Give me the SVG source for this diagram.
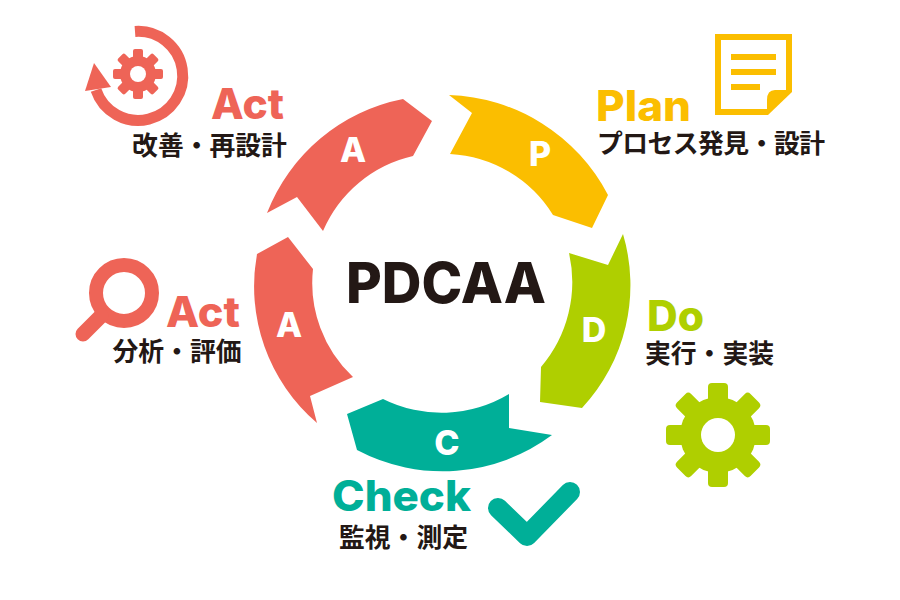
<svg xmlns="http://www.w3.org/2000/svg" width="900" height="600" viewBox="0 0 900 600">
<style>
.red{fill:#EE6457}.yel{fill:#FBBE00}.grn{fill:#AFCF00}.teal{fill:#00AF98}
.l{font-family:"Inter","Liberation Sans",sans-serif;font-weight:800;text-anchor:middle}
.h{font-size:42px}
.s{font-size:34px;fill:#fff}
.j{font-family:"Noto Sans CJK JP",sans-serif;font-weight:700;font-size:25.8px;fill:#231815;text-anchor:middle}
</style>
<rect width="900" height="600" fill="#fff"/>
<g id="connectors">
<path id="seg-act-top" class="red" d="M403 99L432 121L413 156A129 129 0 0 0 323 231L297 197L267 213A184 184 0 0 1 403 99Z"/>
<path id="seg-plan" class="yel" d="M449 95L472 113L450 154A129 129 0 0 1 553 215L592 228L608 195A186 186 0 0 0 449 95Z"/>
<path id="seg-do" class="grn" d="M623 234L608 265L569 253A131 131 0 0 1 541 367L540 402L582 408A180 180 0 0 0 623 234Z"/>
<path id="seg-check" class="teal" d="M347 414L383 399A131 131 0 0 0 509 394L509 428L552 435A183 183 0 0 1 357 450Z"/>
<path id="seg-act-low" class="red" d="M288 237L313 269A129 129 0 0 0 353 377L310 396L317 423A180 180 0 0 1 257 254Z"/>
</g>
<g id="center"><text x="446" y="303" class="l" font-size="56" fill="#231815" textLength="200" lengthAdjust="spacingAndGlyphs">PDCAA</text></g>
<g id="letter-a-top"><text x="353" y="162" class="l s">A</text></g>
<g id="letter-p"><text x="540" y="166" class="l s">P</text></g>
<g id="letter-d"><text x="594" y="342" class="l s">D</text></g>
<g id="letter-c"><text x="447" y="455" class="l s">C</text></g>
<g id="letter-a-low"><text x="289" y="337" class="l s">A</text></g>
<g id="node-act-top">
<path d="M135 31.5A44.500 44.500 0 1 1 96 90" fill="none" stroke="#EE6457" stroke-width="11"/>
<path class="red" d="M94 63L85 91L111 87Z"/>
<g class="red"><circle cx="138" cy="74" r="18"/>
<rect x="133" y="49" width="10" height="50" rx="2"/>
<rect x="133" y="49" width="10" height="50" rx="2" transform="rotate(45 138 74)"/>
<rect x="133" y="49" width="10" height="50" rx="2" transform="rotate(90 138 74)"/>
<rect x="133" y="49" width="10" height="50" rx="2" transform="rotate(135 138 74)"/></g>
<circle cx="138" cy="74" r="8" fill="#fff"/>
<text x="247.500" y="119" class="l h red" textLength="73" lengthAdjust="spacingAndGlyphs">Act</text>
<text x="209.500" y="155" class="j">改善・再設計</text>
</g>
<g id="node-plan">
<path class="yel" d="M715 34H792V92L768 115H715Z"/>
<path fill="#fff" d="M721 40H786V90H775Q767 90 767 100V109H721Z"/>
<path class="yel" d="M731 54H776V60H731ZM731 69H776V75H731ZM731 84H760V90H731Z"/>
<text x="643.500" y="121" class="l h yel" textLength="95" lengthAdjust="spacingAndGlyphs">Plan</text>
<text x="711" y="153" class="j" textLength="228">プロセス発見・設計</text>
</g>
<g id="node-do">
<g class="grn"><circle cx="718" cy="435" r="38"/>
<rect x="708" y="383" width="20" height="104" rx="4"/>
<rect x="708" y="383" width="20" height="104" rx="4" transform="rotate(45 718 435)"/>
<rect x="708" y="383" width="20" height="104" rx="4" transform="rotate(90 718 435)"/>
<rect x="708" y="383" width="20" height="104" rx="4" transform="rotate(135 718 435)"/></g>
<circle cx="718" cy="435" r="17" fill="#fff"/>
<text x="675.500" y="331" class="l h grn" textLength="57" lengthAdjust="spacingAndGlyphs">Do</text>
<text x="709.500" y="363" class="j">実行・実装</text>
</g>
<g id="node-check">
<path d="M498 508L527 536L570 492" fill="none" stroke="#00AF98" stroke-width="20" stroke-linecap="round" stroke-linejoin="round"/>
<text x="401.500" y="511" class="l h teal" textLength="139" lengthAdjust="spacingAndGlyphs">Check</text>
<text x="403.500" y="547" class="j">監視・測定</text>
</g>
<g id="node-act-low">
<circle cx="124" cy="293" r="28" fill="none" stroke="#EE6457" stroke-width="14"/>
<path d="M101 316L83 334" fill="none" stroke="#EE6457" stroke-width="15" stroke-linecap="round"/>
<text x="203" y="327" class="l h red" textLength="74" lengthAdjust="spacingAndGlyphs">Act</text>
<text x="177" y="361" class="j">分析・評価</text>
</g>
</svg>
